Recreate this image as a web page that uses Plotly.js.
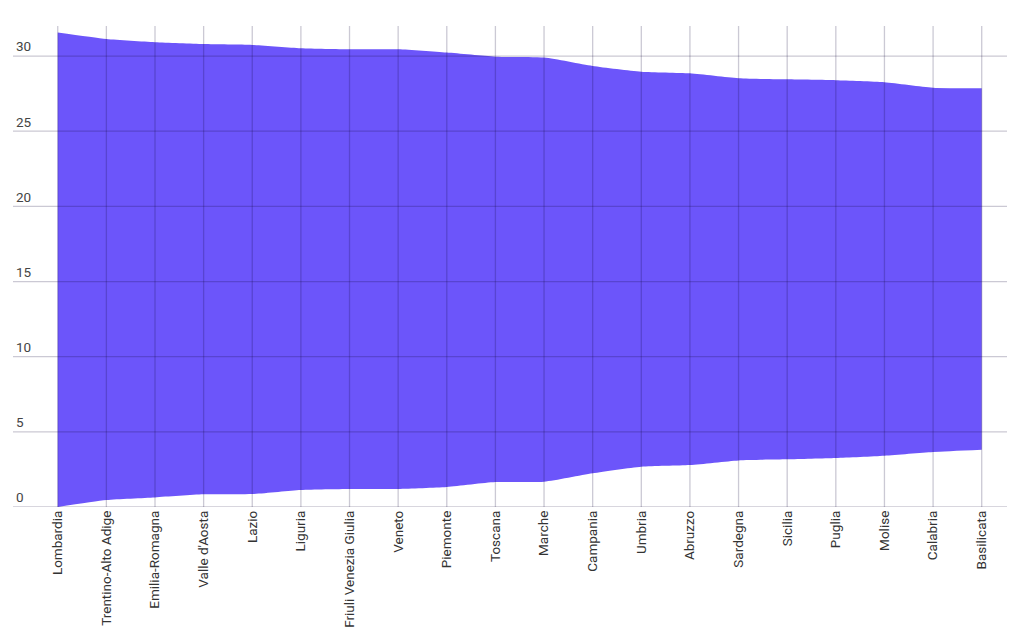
<!DOCTYPE html>
<html>
<head>
<meta charset="utf-8">
<script src="https://cdn.plot.ly/plotly-3.0.1.min.js"></script>
<style>html,body{margin:0;padding:0;background:#fff;}#chart{width:1024px;height:641px;}</style>
</head>
<body>
<div id="chart"></div>
<script>
const regions = ["Lombardia","Trentino-Alto Adige","Emilia-Romagna","Valle d'Aosta","Lazio","Liguria","Friuli Venezia Giulia","Veneto","Piemonte","Toscana","Marche","Campania","Umbria","Abruzzo","Sardegna","Sicilia","Puglia","Molise","Calabria","Basilicata"];
const lowerValues = [0, 0.47, 0.64, 0.84, 0.86, 1.13, 1.2, 1.2, 1.33, 1.66, 1.68, 2.24, 2.68, 2.79, 3.1, 3.17, 3.26, 3.41, 3.66, 3.81];
const upperValues = [31.56, 31.13, 30.92, 30.8, 30.74, 30.52, 30.45, 30.45, 30.23, 29.96, 29.9, 29.34, 28.96, 28.85, 28.52, 28.45, 28.39, 28.26, 27.9, 27.86];
const yTicks = [0, 5, 10, 15, 20, 25, 30];

const idx = regions.map((_, i) => i);
const fillColor = '#6c55fa';
const gridColor = 'rgba(20,10,60,0.22)';

const traces = [
  {x: idx, y: lowerValues, type: 'scatter', mode: 'lines',
   line: {width: 0, shape: 'spline', smoothing: 0.6}, hoverinfo: 'skip', showlegend: false},
  {x: idx, y: upperValues, type: 'scatter', mode: 'lines', fill: 'tonexty', fillcolor: fillColor,
   line: {width: 0, shape: 'spline', smoothing: 0.6}, hoverinfo: 'skip', showlegend: false}
];

const shapes = [];
idx.forEach(i => shapes.push({type: 'line', layer: 'above', xref: 'x', yref: 'paper', x0: i, x1: i, y0: 0, y1: 1,
  line: {color: gridColor, width: 1.3}}));
yTicks.forEach(v => shapes.push({type: 'line', layer: 'above', xref: 'paper', yref: 'y', x0: 0, x1: 1, y0: v, y1: v,
  line: {color: gridColor, width: 1.3}}));

const layout = {
  width: 1024, height: 641,
  margin: {l: 13, r: 17, t: 26, b: 134},
  paper_bgcolor: '#fff', plot_bgcolor: '#fff',
  font: {family: 'Roboto, sans-serif', size: 13.5, color: '#333'},
  showlegend: false,
  xaxis: {
    range: [-0.92, 19.52],
    tickmode: 'array', tickvals: idx, ticktext: regions,
    tickangle: -90, showgrid: false, zeroline: false, showline: false,
    ticks: '', tickfont: {size: 13.5, color: '#333'}, fixedrange: true
  },
  yaxis: {
    range: [0, 32],
    tickmode: 'array', tickvals: yTicks,
    ticklabelposition: 'inside top', ticklabelstandoff: 0,
    showgrid: false, zeroline: false, showline: false, ticks: '',
    tickfont: {size: 13.5, color: '#444'}, fixedrange: true
  },
  shapes: shapes
};

Plotly.newPlot('chart', traces, layout, {staticPlot: true, displayModeBar: false});
</script>
</body>
</html>
